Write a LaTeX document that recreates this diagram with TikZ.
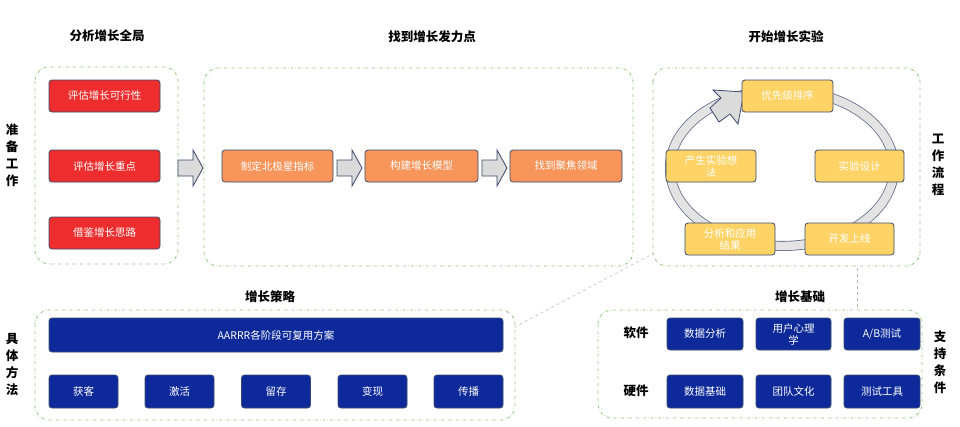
\documentclass[tikz,border=0pt]{standalone}
\usepackage{fontspec}
\setmainfont{Noto Sans CJK SC}
\definecolor{cred}{HTML}{EE2E2E}
\definecolor{corg}{HTML}{F7955A}
\definecolor{cyel}{HTML}{FFD366}
\definecolor{cblu}{HTML}{0E2A9A}
\definecolor{cbrd}{HTML}{3B4A6E}
\definecolor{cgrn}{HTML}{8DC878}
\begin{document}
\begin{tikzpicture}[x=1pt,y=-1pt,
 grp/.style={draw=cgrn,dash dot,line width=0.8pt,rounded corners=14pt},
 bx/.style={draw=cbrd,line width=0.8pt,rounded corners=3pt,text=white,font=\fontsize{10.5}{12}\selectfont,align=center,inner sep=0pt},
 red/.style={bx,fill=cred},
 org/.style={bx,fill=corg},
 yel/.style={bx,fill=cyel},
 blu/.style={bx,fill=cblu},
 ttl/.style={font=\fontsize{12.5}{14}\selectfont\bfseries},
 vt/.style={font=\fontsize{12.5}{17}\selectfont\bfseries,align=center},
 blk/.style={fill=gray!28,draw=cbrd,line width=0.8pt}]
\useasboundingbox (0,0) rectangle (960,426);
\fill[white] (0,0) rectangle (960,426);
% titles
\node[ttl] (t1) at (107,36) {分析增长全局};
\node[ttl] (t2) at (432,37) {找到增长发力点};
\node[ttl] (t3) at (786,37) {开始增长实验};
\node[ttl] (t4) at (270,297) {增长策略};
\node[ttl] (t5) at (800,297) {增长基础};
\node[vt] (v1) at (12,155) {准\\备\\工\\作};
\node[vt] (v2) at (938,165) {工\\作\\流\\程};
\node[vt] (v3) at (12,365) {具\\体\\方\\法};
\node[vt] (v4) at (940,362) {支\\持\\条\\件};
% dashed connectors
\draw[gray!40,dashed,line width=0.8pt] (660,250) -- (430,372);
\draw[gray!60,dashed,line width=0.8pt] (857,268) -- (857,310);
% groups
\draw[grp,fill=white] (35,67) rectangle (178,264);
\draw[grp,fill=white] (204,68) rectangle (633,266);
\draw[grp,fill=white] (653,68) rectangle (920,266);
\draw[grp,fill=white] (35,310) rectangle (515,420);
\draw[grp,fill=white] (598,310) rectangle (922,418);
% red
\node[red,minimum width=111pt,minimum height=32pt] (r1) at (104.5,96) {评估增长可行性};
\node[red,minimum width=111pt,minimum height=32pt] (r2) at (104.5,166) {评估增长重点};
\node[red,minimum width=111pt,minimum height=32pt] (r3) at (104.5,233) {借鉴增长思路};
% block arrows
\foreach \a/\b in {178/203,337/362,482/507}{
 \draw[blk] (\a,160) -- (\b-10,160) -- (\b-10,150) -- (\b,168) -- (\b-10,186) -- (\b-10,176) -- (\a,176) -- cycle;}
% orange
\node[org,minimum width=111pt,minimum height=32pt] (o1) at (277.5,166) {制定北极星指标};
\node[org,minimum width=113pt,minimum height=32pt] (o2) at (421.5,166) {构建增长模型};
\node[org,minimum width=112pt,minimum height=32pt] (o3) at (566,166) {找到聚焦领域};
% ring
\draw[cbrd!80,line width=10pt] (782,168) ellipse (112pt and 78pt);
\draw[gray!22,line width=8.4pt] (782,168) ellipse (112pt and 78pt);
\draw[blk] (710,108) -- (721,98) -- (713,90) -- (744,92) -- (738,124) -- (730,114) -- (719,122) -- cycle;
% yellow
\node[yel,minimum width=91pt,minimum height=32pt] (y1) at (787.5,96) {优先级排序};
\node[yel,minimum width=89pt,minimum height=32pt] (y2) at (859.5,166) {实验设计};
\node[yel,minimum width=89pt,minimum height=32pt] (y3) at (849.5,239) {开发上线};
\node[yel,minimum width=90pt,minimum height=32pt] (y4) at (730,239) {分析和应用\\结果};
\node[yel,minimum width=90pt,minimum height=32pt] (y5) at (711,166) {产生实验想\\法};
% blue bottom-left
\node[blu,minimum width=454pt,minimum height=34pt] (a0) at (276,335) {AARRR各阶段可复用方案};
\foreach \x/\t/\n in {83.5/获客/a1,179.5/激活/a2,276/留存/a3,372.5/变现/a4,468.5/传播/a5}
 \node[blu,minimum width=69pt,minimum height=33pt] (\n) at (\x,391.5) {\t};
% bottom-right
\node[ttl] (s1) at (636,333) {软件};
\node[ttl] (s2) at (636,391) {硬件};
\node[blu,minimum width=76pt,minimum height=32pt] (b1) at (705,334) {数据分析};
\node[blu,minimum width=75pt,minimum height=32pt] (b2) at (793.5,334) {用户心理\\学};
\node[blu,minimum width=76pt,minimum height=32pt] (b3) at (882,334) {A/B测试};
\node[blu,minimum width=76pt,minimum height=33pt] (b4) at (705,391.5) {数据基础};
\node[blu,minimum width=75pt,minimum height=33pt] (b5) at (793.5,391.5) {团队文化};
\node[blu,minimum width=76pt,minimum height=33pt] (b6) at (882,391.5) {测试工具};
\end{tikzpicture}
\end{document}
